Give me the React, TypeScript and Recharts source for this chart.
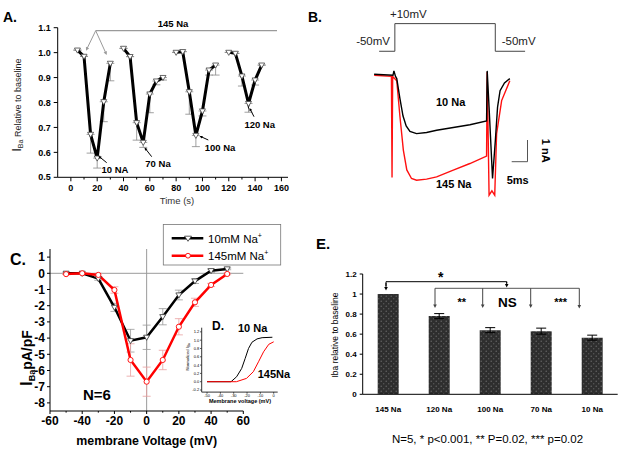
import React from 'react';
import { LineChart, Line, XAxis, YAxis, ErrorBar, BarChart, Bar, ReferenceLine } from 'recharts';

const FONT = "'Liberation Sans', Arial, Helvetica, sans-serif";

// --- A: I_Ba relative to baseline over time, four Na steps ---
const timeA1 = [5, 10, 15, 20, 25, 30];
const relA1 = [1.01, 0.985, 0.672, 0.577, 0.803, 0.957];
const errA1 = [0, 0, 0.075, 0.04, 0.08, 0.07];
const timeA2 = [40, 45, 50, 55, 60, 65, 70];
const relA2 = [1.017, 0.984, 0.719, 0.64, 0.834, 0.886, 0.9];
const errA2 = [0, 0, 0.07, 0.02, 0.075, 0.015, 0.01];
const timeA3 = [80, 85, 90, 95, 100, 105, 110];
const relA3 = [1.001, 1.004, 0.843, 0.668, 0.766, 0.93, 0.95];
const errA3 = [0, 0, 0.09, 0.045, 0.02, 0.02, 0.04];
const timeA4 = [120, 125, 130, 135, 140, 145];
const relA4 = [1.001, 0.997, 0.906, 0.796, 0.89, 0.95];
const errA4 = [0, 0, 0.04, 0.035, 0.02, 0];
const ticksTimeA = [0, 10, 20, 30, 40, 50, 60, 70, 80, 90, 100, 110, 120, 130, 140, 150, 160];
const ticksRelA = [0.5, 0.6, 0.7, 0.8, 0.9, 1.0, 1.1];

// --- B: current traces (ms, nA) and voltage protocol ---
const blackT = [-6, 0, 0.3, 0.8, 1.2, 2.2, 3.2, 4.2, 5.4, 7.5, 10.7, 13.9, 19.2, 24.5, 29.8, 30.0, 30.6, 31.7, 32.6, 33.3, 34.1, 35.5, 37.2];
const blackI = [0, -0.05, 0.15, -0.1, -0.2, -1.1, -1.9, -2.35, -2.6, -2.7, -2.65, -2.55, -2.42, -2.3, -2.12, 0.15, -1.5, -4.74, -3.0, -1.5, -0.75, -0.4, -0.2];
const redT = [-6, -0.5, -0.3, -0.1, 1.2, 2.2, 3.3, 4.4, 5.9, 7.5, 10.7, 13.9, 19.2, 24.5, 29.8, 30.0, 30.6, 31.5, 32.4, 33.0, 34.6, 37.2];
const redI = [-0.05, -0.1, -4.7, -0.1, -0.3, -1.9, -3.45, -4.35, -4.74, -4.82, -4.77, -4.67, -4.36, -4.06, -3.72, 0.1, -5.5, -5.3, -5.5, -2.7, -1.2, -0.3];
const protoT = [-5, 0, 0, 32, 32, 41.5];
const protoV = [-50, -50, 10, 10, -50, -50];

// --- C: I-V relation ---
const voltC = [-50, -40, -30, -20, -10, 0, 10, 20, 30, 40, 50];
const iv10 = [0, 0, -0.33, -2.1, -4.16, -3.95, -2.68, -1.34, -0.48, 0.16, 0.27];
const iv10Err = [0.02, 0.02, 0.1, 0.25, 0.7, 0.75, 0.5, 0.3, 0.15, 0.1, 0.05];
const iv145 = [-0.05, 0, -0.1, -1.03, -5.35, -6.69, -5.35, -3.3, -1.79, -0.72, -0.04];
const iv145Err = [0.02, 0.02, 0.1, 0.2, 1.0, 0.9, 0.6, 0.5, 0.25, 0.1, 0.05];
const ticksVoltC = [-60, -50, -40, -30, -20, -10, 0, 10, 20, 30, 40, 50, 60];
const ticksIC = [-8, -7, -6, -5, -4, -3, -2, -1, 0, 1];

// --- D: activation curves ---
const actT10 = [-50, -32, -27.8, -24, -21.4, -18.9, -16.3, -12.5, -8.7, -1];
const act10 = [0, 0, 0.12, 0.32, 0.56, 0.8, 0.95, 1.03, 1.06, 1.07];
const actT145 = [-50, -28, -20.4, -15.3, -11.4, -7.6, -3.7, 0];
const act145 = [0, 0, 0.08, 0.24, 0.48, 0.72, 0.9, 0.96];

// --- E: summary bars ---
const catsE = ['145 Na', '120 Na', '100 Na', '70 Na', '10 Na'];
const valsE = [1.0, 0.78, 0.64, 0.63, 0.565];
const errsE = [0, 0.025, 0.025, 0.03, 0.025];
const ticksE = [0, 0.2, 0.4, 0.6, 0.8, 1.0, 1.2];
const edgesE = [0, 1, 2, 3, 4, 5];

const rowsA = (t: number[], v: number[], e: number[]) => t.map((x, i) => ({ x, y: v[i], e: [e[i], 0] }));
const groupsA = [rowsA(timeA1, relA1, errA1), rowsA(timeA2, relA2, errA2), rowsA(timeA3, relA3, errA3), rowsA(timeA4, relA4, errA4)];
const pairs = (t: number[], v: number[]) => t.map((x, i) => ({ t: x, v: v[i] }));
const rowsC = (v: number[], e: number[]) => voltC.map((x, i) => ({ x, y: v[i], e: e[i] }));
const rowsE = catsE.map((c, i) => ({ c, v: valsE[i], e: errsE[i] }));

const triDown = (stroke: string, s = 3) => (p: any) => {
  if (p.cx == null || p.cy == null) return <g key={`n${p.index}`} />;
  const { cx, cy } = p;
  return (
    <path key={`t${p.index}`} d={`M${cx - s},${cy - s * 0.7}L${cx + s},${cy - s * 0.7}L${cx},${cy + s}Z`}
      fill="#fff" stroke={stroke} strokeWidth={0.8} />
  );
};
const ring = (stroke: string, r = 2.6) => (p: any) => {
  if (p.cx == null || p.cy == null) return <g key={`n${p.index}`} />;
  return <circle key={`c${p.index}`} cx={p.cx} cy={p.cy} r={r} fill="#fff" stroke={stroke} strokeWidth={0.9} />;
};

// bottom tick with short minor marks (tickLine disabled on the axis)
const bottomTick = (size: number, gap: number, fs: number, minors: number[]) => (p: any) => {
  const v = p.payload.value;
  const minor = minors.includes(v);
  const ay = p.y - size - gap;
  return (
    <g>
      <line x1={p.x} x2={p.x} y1={ay} y2={ay + (minor ? size * 0.55 : size)} stroke="#000" />
      {!minor && (
        <text x={p.x} y={p.y} dy="0.72em" textAnchor="middle" fontSize={fs} fontWeight="bold" fontFamily={FONT} fill="#000">
          {v}
        </text>
      )}
    </g>
  );
};

function Arrow({ x1, y1, x2, y2, color = '#000', w = 1, h = 3.6 }: any) {
  const a = Math.atan2(y2 - y1, x2 - x1);
  const c = Math.cos(a), s = Math.sin(a);
  const bx = x2 - h * c, by = y2 - h * s;
  const pts = `${x2},${y2} ${bx + h * 0.5 * s},${by - h * 0.5 * c} ${bx - h * 0.5 * s},${by + h * 0.5 * c}`;
  return (
    <g>
      <line x1={x1} y1={y1} x2={bx + 0.5 * h * c} y2={by + 0.5 * h * s} stroke={color} strokeWidth={w} />
      <polygon points={pts} fill={color} />
    </g>
  );
}

const axisTick = (fs: number) => ({ fontSize: fs, fontWeight: 'bold' as const, fill: '#000', fontFamily: FONT });

export default function App() {
  return (
    <div style={{ position: 'absolute', left: 0, top: 0, width: 622, height: 453, background: '#fff', fontFamily: FONT }}>
      {/* A */}
      <div style={{ position: 'absolute', left: 0, top: 0 }}>
        <LineChart width={300} height={215} margin={{ top: 27.7, right: 12, bottom: 17.7, left: 17.7 }}>
          <XAxis type="number" dataKey="x" domain={[-10, 165]} allowDataOverflow ticks={ticksTimeA} interval={0}
            height={20} tickSize={4} tickMargin={3} tickLine={false} stroke="#000"
            tick={bottomTick(4, 3, 9, [10, 30, 50, 70, 90, 110, 130, 150])} />
          <YAxis type="number" domain={[0.5, 1.1]} allowDataOverflow ticks={ticksRelA} interval={0} width={40}
            tickSize={4} tickMargin={3} stroke="#000" tickFormatter={(v: number) => v.toFixed(1)} tick={axisTick(9)} />
          {groupsA.map((g, i) => (
            <Line key={i} data={g} dataKey="y" stroke="#000" strokeWidth={3} dot={triDown('#444', 3)} isAnimationActive={false}>
              <ErrorBar dataKey="e" direction="y" width={4} stroke="#888" strokeWidth={0.8} />
            </Line>
          ))}
        </LineChart>
      </div>

      {/* B: protocol */}
      <div style={{ position: 'absolute', left: 375.5, top: 19.4 }}>
        <LineChart width={150.7} height={36.9} margin={{ top: 0, right: 0, bottom: 0, left: 0 }}>
          <XAxis type="number" dataKey="t" domain={[-6, 42]} allowDataOverflow hide />
          <YAxis type="number" domain={[-60, 20]} allowDataOverflow hide />
          <Line data={pairs(protoT, protoV)} dataKey="v" stroke="#444" strokeWidth={1} dot={false} isAnimationActive={false} />
        </LineChart>
      </div>
      {/* B: traces */}
      <div style={{ position: 'absolute', left: 371, top: 60.8 }}>
        <LineChart width={163.3} height={140.8} margin={{ top: 0, right: 0, bottom: 0, left: 0 }}>
          <XAxis type="number" dataKey="t" domain={[-7, 45]} allowDataOverflow hide />
          <YAxis type="number" domain={[-5.8, 0.6]} allowDataOverflow hide />
          <Line data={pairs(redT, redI)} dataKey="v" stroke="#ff1010" strokeWidth={1.4} dot={false} isAnimationActive={false} />
          <Line data={pairs(blackT, blackI)} dataKey="v" stroke="#000" strokeWidth={1.4} dot={false} isAnimationActive={false} />
        </LineChart>
      </div>

      {/* C */}
      <div style={{ position: 'absolute', left: 0, top: 230 }}>
        <LineChart width={300} height={223} margin={{ top: 19, right: 56.7, bottom: 17, left: 10 }}>
          <XAxis type="number" dataKey="x" domain={[-60, 60]} allowDataOverflow ticks={ticksVoltC} interval={0}
            height={25} tickSize={3} tickMargin={2} tickLine={false} stroke="#000"
            tick={bottomTick(3, 2, 12, [-50, -30, -10, 10, 30, 50])} />
          <YAxis type="number" domain={[-8.5, 1.5]} allowDataOverflow ticks={ticksIC} interval={0} width={40}
            tickSize={3} tickMargin={2} stroke="#000" tick={axisTick(12)} />
          <ReferenceLine y={0} stroke="#9a9a9a" />
          <ReferenceLine x={0} stroke="#9a9a9a" />
          <Line data={rowsC(iv10, iv10Err)} dataKey="y" stroke="#000" strokeWidth={2.5} dot={triDown('#333', 3)} isAnimationActive={false}>
            <ErrorBar dataKey="e" direction="y" width={4} stroke="#999" strokeWidth={0.8} />
          </Line>
          <Line data={rowsC(iv145, iv145Err)} dataKey="y" stroke="#ff0000" strokeWidth={2.5} dot={ring('#ff0000')} isAnimationActive={false}>
            <ErrorBar dataKey="e" direction="y" width={4} stroke="#e8a0a0" strokeWidth={0.8} />
          </Line>
        </LineChart>
      </div>

      {/* D inset */}
      <div style={{ position: 'absolute', left: 180, top: 320 }}>
        <LineChart width={100} height={90} margin={{ top: 7.7, right: 2.3, bottom: 9.9, left: 7.7 }}>
          <XAxis type="number" dataKey="t" domain={[-54, 3]} allowDataOverflow ticks={[-50, -40, -30, -20, -10, 0]} interval={0}
            height={8} tickSize={1.5} tickMargin={0.5} stroke="#333" tick={{ fontSize: 4, fill: '#000', fontFamily: FONT }} />
          <YAxis type="number" domain={[-0.25, 1.3]} allowDataOverflow ticks={[-0.2, 0, 0.2, 0.4, 0.6, 0.8, 1.0, 1.2]} interval={0}
            width={14} tickSize={1.5} tickMargin={1} stroke="#333" tickFormatter={(v: number) => v.toFixed(1)}
            tick={{ fontSize: 4, fill: '#000', fontFamily: FONT }} />
          <Line data={pairs(actT10, act10)} dataKey="v" stroke="#000" strokeWidth={1} dot={false} isAnimationActive={false} />
          <Line data={pairs(actT145, act145)} dataKey="v" stroke="#ff0000" strokeWidth={1} dot={false} isAnimationActive={false} />
        </LineChart>
      </div>

      {/* E */}
      <div style={{ position: 'absolute', left: 320, top: 250 }}>
        <BarChart width={302} height={180} data={rowsE} margin={{ top: 24, right: 4.3, bottom: 15.7, left: 12.7 }}>
          <defs>
            <pattern id="dotfill" width="5" height="5" patternUnits="userSpaceOnUse">
              <rect width="5" height="5" fill="#2e2e2e" />
              <circle cx="1.2" cy="1.2" r="0.7" fill="#6a6a6a" />
              <circle cx="3.7" cy="3.7" r="0.7" fill="#5a5a5a" />
            </pattern>
          </defs>
          {/* tick marks on category boundaries */}
          <XAxis xAxisId="edge" type="number" domain={[0, 5]} allowDataOverflow ticks={edgesE} interval={0} height={0}
            tickSize={4} tickMargin={0} axisLine={false} stroke="#000" tickFormatter={() => ''} />
          <XAxis xAxisId="cat" dataKey="c" height={20} tickSize={4} tickMargin={8} tickLine={false} stroke="#000" tick={axisTick(8)} />
          <YAxis type="number" domain={[0, 1.2]} allowDataOverflow ticks={ticksE} interval={0} width={30}
            tickSize={3} tickMargin={3} stroke="#000" tickFormatter={(v: number) => String(+v.toFixed(1))} tick={axisTick(8)} />
          <Bar xAxisId="cat" dataKey="v" fill="url(#dotfill)" barSize={21} isAnimationActive={false}>
            <ErrorBar dataKey="e" direction="y" width={5} stroke="#000" strokeWidth={1} />
          </Bar>
        </BarChart>
      </div>

      {/* annotations and titles */}
      <svg width={622} height={453} style={{ position: 'absolute', left: 0, top: 0, pointerEvents: 'none' }} fontFamily={FONT}>
        {/* A */}
        <text x={3} y={21.7} fontSize={14} fontWeight="bold">A.</text>
        <text x={173} y={26.5} fontSize={9.5} fontWeight="bold" textAnchor="middle">145 Na</text>
        <line x1={95.7} y1={30.7} x2={277} y2={30.7} stroke="#9a9a9a" strokeWidth={1.3} />
        <Arrow x1={95.7} y1={30.7} x2={86} y2={50.7} color="#9a9a9a" />
        <Arrow x1={95.7} y1={30.7} x2={106.7} y2={55} color="#9a9a9a" />
        <Arrow x1={106.7} y1={162.7} x2={98.5} y2={156} h={3} />
        <Arrow x1={151.7} y1={156.7} x2={144.5} y2={147.5} h={3} />
        <Arrow x1={208.3} y1={140} x2={199.5} y2={136} h={3} />
        <Arrow x1={254} y1={116.7} x2={249.5} y2={108} h={3} />
        <text x={115} y={172.7} fontSize={9.5} fontWeight="bold" textAnchor="middle">10 NA</text>
        <text x={158} y={166.5} fontSize={9.5} fontWeight="bold" textAnchor="middle">70 Na</text>
        <text x={220} y={150.7} fontSize={9.5} fontWeight="bold" textAnchor="middle">100 Na</text>
        <text x={259.7} y={127.7} fontSize={9.5} fontWeight="bold" textAnchor="middle">120 Na</text>
        <text x={177} y={203.5} fontSize={9.5} fill="#333" textAnchor="middle">Time (s)</text>
        <text transform="translate(21,105) rotate(-90)" textAnchor="middle" fill="#222">
          <tspan fontSize={12}>I</tspan>
          <tspan fontSize={7} dy={2}>Ba</tspan>
          <tspan fontSize={9} dy={-2}> Relative to baseline</tspan>
        </text>

        {/* B */}
        <text x={308} y={21.7} fontSize={14} fontWeight="bold">B.</text>
        <text x={390} y={18.3} fontSize={11.5} fill="#222">+10mV</text>
        <text x={390} y={45} fontSize={11.5} fill="#222" textAnchor="end">-50mV</text>
        <text x={501.7} y={45} fontSize={11.5} fill="#222">-50mV</text>
        <text x={436} y={106} fontSize={11} fontWeight="bold">10 Na</text>
        <text x={436} y={188.3} fontSize={11} fontWeight="bold">145 Na</text>
        <polyline points="511.7,161.7 527.5,161.7 527.5,140" fill="none" stroke="#555" strokeWidth={1} />
        <text transform="translate(541.5,150.7) rotate(90)" fontSize={11} fontWeight="bold" textAnchor="middle">1 nA</text>
        <text x={506.7} y={184} fontSize={11} fontWeight="bold">5ms</text>

        {/* C */}
        <text x={10} y={265} fontSize={16} fontWeight="bold">C.</text>
        <text transform="translate(32,358) rotate(-90)" textAnchor="middle" fontWeight="bold">
          <tspan fontSize={16}>I</tspan>
          <tspan fontSize={9} dy={3}>Ba</tspan>
          <tspan fontSize={14} dy={-3}>pA/pF</tspan>
        </text>
        <text x={146.7} y={445} fontSize={12.4} fontWeight="bold" textAnchor="middle">membrane Voltage (mV)</text>
        <text x={83} y={400} fontSize={15} fontWeight="bold">N=6</text>
        <rect x={163.3} y={224.5} width={117.4} height={40.5} fill="#fff" stroke="#777" strokeWidth={0.8} />
        <line x1={171.7} y1={238.3} x2={203.3} y2={238.3} stroke="#000" strokeWidth={2.5} />
        <path d="M184.5,236.2L191.5,236.2L188,241.3Z" fill="#fff" stroke="#333" strokeWidth={0.8} />
        <line x1={171.7} y1={255.7} x2={203.3} y2={255.7} stroke="#ff0000" strokeWidth={2.5} />
        <circle cx={188} cy={255.7} r={2.4} fill="#fff" stroke="#ff0000" strokeWidth={0.9} />
        <text x={208} y={242.7} fontSize={11.5}>10mM Na<tspan fontSize={7} dy={-5}>+</tspan></text>
        <text x={208} y={260} fontSize={11.5}>145mM Na<tspan fontSize={7} dy={-5}>+</tspan></text>

        {/* D */}
        <text x={212} y={330} fontSize={12} fontWeight="bold">D.</text>
        <text x={238} y={331.5} fontSize={11} fontWeight="bold">10 Na</text>
        <text x={257.7} y={378.3} fontSize={11} fontWeight="bold">145Na</text>
        <text transform="translate(188.5,357) rotate(-90)" textAnchor="middle" fontSize={4.2}>
          Normalized I<tspan fontSize={3} dy={1}>Ba</tspan>
        </text>
        <text x={240} y={402.5} fontSize={5.5} fontWeight="bold" textAnchor="middle">Membrane voltage (mV)</text>

        {/* E */}
        <text x={316} y={249} fontSize={15} fontWeight="bold">E.</text>
        <text transform="translate(338,335) rotate(-90)" textAnchor="middle" fontSize={8.5}>Iba relative to baseline</text>
        <polyline points="386,286 386,281.7 506.7,281.7 506.7,283" fill="none" stroke="#000" strokeWidth={1} />
        <Arrow x1={386} y1={283} x2={386} y2={290.5} />
        <Arrow x1={506.7} y1={281.7} x2={506.7} y2={287.5} />
        <line x1={435} y1={288.3} x2={579.3} y2={288.3} stroke="#555" strokeWidth={1} />
        <Arrow x1={435} y1={288.3} x2={435} y2={308} color="#444" />
        <Arrow x1={482.7} y1={288.3} x2={482.7} y2={308} color="#444" />
        <Arrow x1={530.7} y1={288.3} x2={530.7} y2={308} color="#444" />
        <Arrow x1={579.3} y1={288.3} x2={579.3} y2={308.5} color="#444" />
        <text x={440.7} y={282} fontSize={14} fontWeight="bold" textAnchor="middle">*</text>
        <text x={461.7} y={306} fontSize={11} fontWeight="bold" textAnchor="middle">**</text>
        <text x={507.5} y={306.7} fontSize={13.5} fontWeight="bold" textAnchor="middle">NS</text>
        <text x={560.7} y={306} fontSize={11} fontWeight="bold" textAnchor="middle">***</text>
        <text x={487.5} y={443} fontSize={11.5} textAnchor="middle">N=5, * p&lt;0.001, ** P=0.02, *** p=0.02</text>
      </svg>
    </div>
  );
}
